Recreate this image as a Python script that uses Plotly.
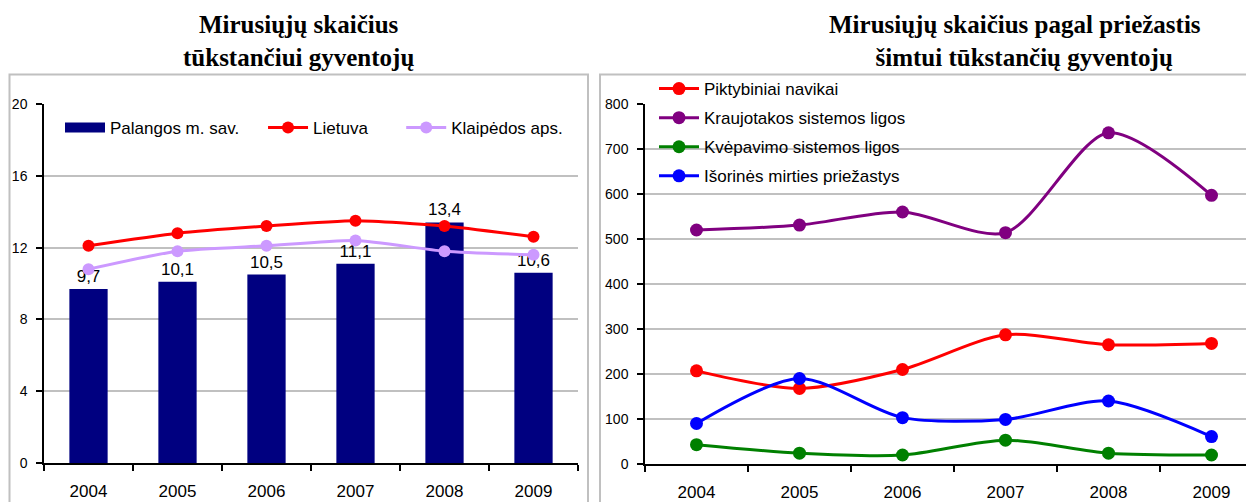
import plotly.graph_objects as go

years = ["2004", "2005", "2006", "2007", "2008", "2009"]

# Left chart: deaths per 1000 inhabitants
palanga = [9.7, 10.1, 10.5, 11.1, 13.4, 10.6]
lietuva = [12.1, 12.8, 13.2, 13.5, 13.2, 12.6]
klaipeda = [10.8, 11.8, 12.1, 12.4, 11.8, 11.6]

# Right chart: deaths by cause per 100 000 inhabitants
piktybiniai = [207, 168, 210, 287, 265, 268]
kraujotakos = [520, 531, 560, 514, 736, 597]
kvepavimo = [43, 24, 20, 53, 24, 20]
isorines = [90, 190, 103, 99, 140, 61]

# page body has an 8px margin -> figure sized to fill the rest of the window
OFF = 8
W, H = 1254 - OFF, 502 - OFF
FONT = "Liberation Sans, Arial, sans-serif"
SERIF = "Liberation Serif, DejaVu Serif, serif"
NB = "\u00a0"


def sx(x):
    return (x - OFF) / W


def sy(y):
    return 1 - (y - OFF) / H


fig = go.Figure()

# ---- left chart ----
fig.add_trace(go.Bar(
    x=years, y=palanga, name="Palangos m. sav.", showlegend=False,
    marker=dict(color="#000080", line=dict(width=0)),
    width=0.43,
    text=[f"{v:.1f}".replace(".", ",") for v in palanga],
    textposition="outside", cliponaxis=False,
    textfont=dict(family=FONT, size=17, color="#000000"),
    xaxis="x", yaxis="y",
))
# legend entry for the bars (wide navy block like the original)
fig.add_trace(go.Scatter(
    x=[None], y=[None], name="Palangos m. sav." + NB * 4, mode="lines",
    line=dict(color="#000080", width=12),
    xaxis="x", yaxis="y", legend="legend",
))
fig.add_trace(go.Scatter(
    x=years, y=lietuva, name="Lietuva" + NB * 6, mode="lines+markers",
    line=dict(color="#FF0000", width=3, shape="spline", smoothing=0.6),
    marker=dict(color="#FF0000", size=12),
    xaxis="x", yaxis="y", legend="legend",
))
fig.add_trace(go.Scatter(
    x=years, y=klaipeda, name="Klaipėdos aps.", mode="lines+markers",
    line=dict(color="#CC99FF", width=3, shape="spline", smoothing=0.6),
    marker=dict(color="#CC99FF", size=12),
    xaxis="x", yaxis="y", legend="legend",
))

# ---- right chart ----
right_series = [
    ("Piktybiniai navikai", piktybiniai, "#FF0000"),
    ("Kraujotakos sistemos ligos", kraujotakos, "#800080"),
    ("Kvėpavimo sistemos ligos", kvepavimo, "#008000"),
    ("Išorinės mirties priežastys", isorines, "#0000FF"),
]
for i, (name, vals, col) in enumerate(right_series):
    fig.add_trace(go.Scatter(
        x=years, y=vals, name=name, mode="lines+markers",
        line=dict(color=col, width=3, shape="spline", smoothing=0.8),
        marker=dict(color=col, size=13),
        xaxis="x2", yaxis="y2", legend="legend2", legendgroup=f"g{i}",
    ))

axis_common = dict(
    showline=True, linecolor="#000000", linewidth=1.5,
    ticks="outside", tickcolor="#000000", ticklen=6, tickwidth=1.5,
    zeroline=False, automargin=False,
)

fig.update_layout(
    template="none",
    width=W, height=H,
    margin=dict(l=0, r=0, t=0, b=0, autoexpand=False),
    paper_bgcolor="white", plot_bgcolor="white",
    showlegend=True,
    xaxis=dict(
        domain=[sx(44), sx(578)], anchor="y", type="category",
        range=[-0.5, 5.5], tickson="boundaries", ticklabelstandoff=12,
        tickfont=dict(family=FONT, size=17, color="#000"),
        showgrid=False, **axis_common,
    ),
    yaxis=dict(
        domain=[sy(463), sy(104)], anchor="x", range=[0, 20],
        tickvals=[0, 4, 8, 12, 16, 20], ticklabelstandoff=6,
        tickfont=dict(family=FONT, size=14, color="#000"),
        showgrid=True, gridcolor="#C0C0C0", gridwidth=1.5, **axis_common,
    ),
    xaxis2=dict(
        domain=[sx(645), 1.0], anchor="y2", type="category",
        range=[-0.5, 5.5 - 9 / 103], tickson="boundaries", ticklabelstandoff=12,
        tickfont=dict(family=FONT, size=17, color="#000"),
        showgrid=False, **axis_common,
    ),
    yaxis2=dict(
        domain=[sy(464), sy(104)], anchor="x2", range=[0, 800],
        tickvals=[0, 100, 200, 300, 400, 500, 600, 700, 800], ticklabelstandoff=6,
        tickfont=dict(family=FONT, size=14, color="#000"),
        showgrid=True, gridcolor="#C0C0C0", gridwidth=1.5, **axis_common,
    ),
    legend=dict(
        orientation="h", x=sx(60), y=sy(128), xanchor="left", yanchor="middle",
        font=dict(family=FONT, size=17, color="#000"),
        bgcolor="rgba(0,0,0,0)", itemwidth=40,
    ),
    legend2=dict(
        orientation="v", x=sx(654), y=sy(71), xanchor="left", yanchor="top",
        font=dict(family=FONT, size=17, color="#000"),
        bgcolor="rgba(0,0,0,0)", itemwidth=40, tracegroupgap=4,
    ),
    shapes=[
        dict(type="rect", xref="paper", yref="paper",
             x0=sx(9.5), x1=sx(588), y0=sy(530), y1=sy(74.5),
             line=dict(color="#C0C0C0", width=2), layer="below"),
        dict(type="rect", xref="paper", yref="paper",
             x0=sx(600), x1=sx(1280), y0=sy(530), y1=sy(74.5),
             line=dict(color="#C0C0C0", width=2), layer="below"),
        # white backing of the right legend, hiding the gridline behind it
        dict(type="rect", xref="paper", yref="paper",
             x0=sx(647), x1=sx(915), y0=sy(190), y1=sy(77),
             fillcolor="white", line=dict(width=0), layer="between"),
    ],
    annotations=[
        dict(text="<b>Mirusiųjų skaičius<br>tūkstančiui gyventojų</b>",
             x=sx(298), y=sy(8.5), xanchor="center", yanchor="top", align="center",
             xref="paper", yref="paper", showarrow=False,
             font=dict(family=SERIF, size=25, color="#000")),
        dict(text="<b>Mirusiųjų skaičius pagal priežastis<br>" + NB * 3
                  + "šimtui tūkstančių gyventojų</b>",
             x=sx(1015), y=sy(8.5), xanchor="center", yanchor="top", align="center",
             xref="paper", yref="paper", showarrow=False,
             font=dict(family=SERIF, size=25, color="#000")),
    ],
)

fig.write_html("out.html")
